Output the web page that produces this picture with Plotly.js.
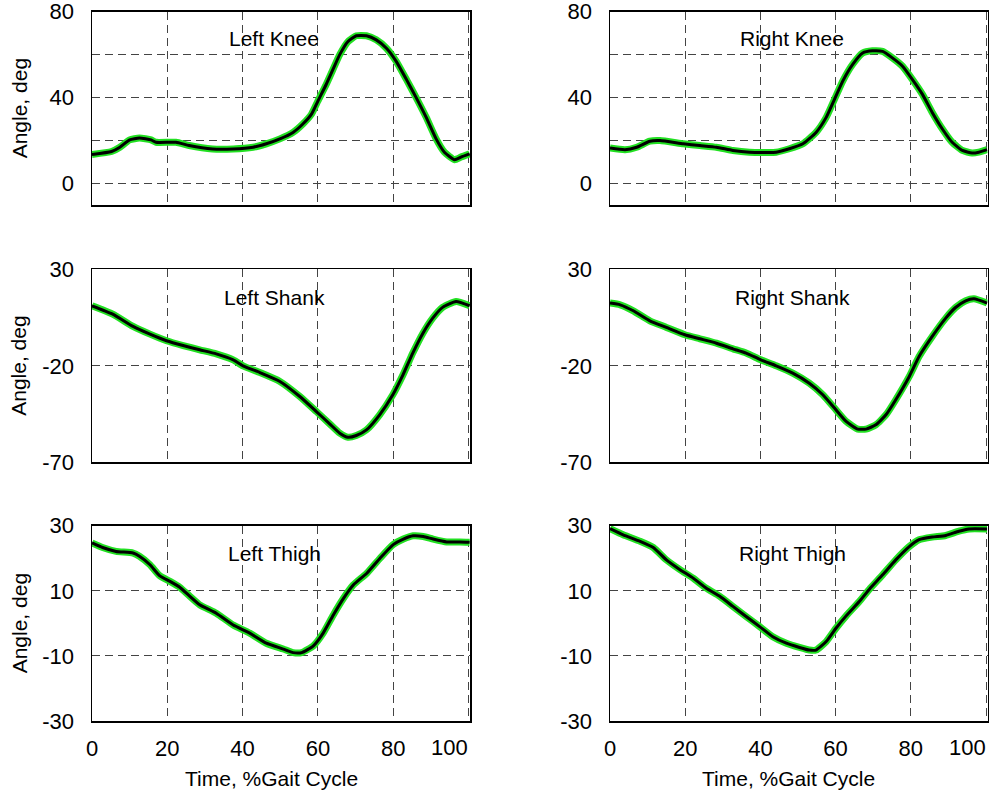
<!DOCTYPE html>
<html>
<head>
<meta charset="utf-8">
<script src="https://cdn.plot.ly/plotly-3.0.1.min.js"></script>
<style>html,body{margin:0;padding:0;background:#fff;}#chart{width:995px;height:796px;}</style>
</head>
<body>
<div id="chart"></div>
<script>
// ---- data ----
const leftKneeX = [0, 5.2, 7.4, 10, 12.6, 15.7, 17, 22.3, 25.8, 32, 37.5, 42.8, 46.3, 49.9, 53.4, 56, 58.3, 60, 62.2, 64, 65.8, 68, 70.2, 72.9, 75.5, 78.2, 80.8, 83.5, 86.1, 88.8, 91.4, 93.6, 96.3, 98, 100.3];
const leftKneeY = [13.5, 14.9, 16.9, 20.3, 21.2, 20.3, 19.2, 19.2, 17.7, 16.1, 16.1, 16.9, 18.5, 20.8, 23.8, 27.7, 32.3, 38.4, 46.1, 53.1, 60, 66.1, 68.8, 68.8, 66.9, 63, 56.9, 48.5, 40, 30.7, 20.8, 14.6, 11.1, 12.3, 13.8];

const rightKneeX = [0, 4, 7.1, 10.6, 13.3, 19.5, 23.9, 28.3, 32.7, 37.1, 41.6, 44.2, 47.7, 51.3, 54.8, 57.5, 59.7, 61.9, 64.5, 67.2, 69.8, 72.5, 75.1, 77.8, 80.4, 83.1, 85.7, 88.4, 91, 93.7, 96.3, 98.1, 100.3];
const rightKneeY = [16.5, 15.7, 16.9, 19.7, 20, 18.5, 17.7, 16.9, 15.4, 14.6, 14.5, 14.6, 16.2, 18.5, 23.8, 30.8, 39.2, 47.7, 55.4, 60.8, 61.8, 61.5, 58.5, 54.6, 48.5, 41.5, 33.1, 25.4, 19.2, 15.4, 14.2, 14.6, 15.8];

const leftShankX = [0, 5.5, 10.9, 15.4, 19.8, 24.2, 28.6, 33, 37.5, 40.1, 44.6, 49.9, 55.2, 59.6, 63.2, 65.8, 68, 70.2, 72.9, 76.4, 79.9, 82.6, 85.2, 87.9, 90.5, 93.2, 96.7, 100.3];
const leftShankY = [11.1, 6.8, 0.4, -3.6, -7, -9.5, -11.7, -13.8, -16.9, -20, -23.5, -28.1, -35.9, -43.7, -50.2, -54.9, -57, -56.1, -53.2, -45.4, -35, -24.7, -13.4, -3.1, 4.7, 10.4, 13.3, 11.1];

const rightShankX = [0, 2.7, 6.2, 10.6, 15, 19.9, 23.9, 28.3, 32.7, 36.2, 40.1, 44.2, 48.6, 53, 56.6, 59.7, 62.8, 65.9, 68.1, 70.7, 73.4, 76, 79.6, 82.2, 85.7, 89.3, 91.9, 94.6, 96.8, 100.3];
const rightShankY = [12.5, 11.6, 8.5, 3.3, -0.1, -3.9, -6, -8.3, -11.2, -13.4, -16.9, -20, -23.8, -29, -35, -41.9, -48.8, -52.8, -52.8, -50.6, -45.4, -37.6, -25.5, -15.2, -4.8, 4.7, 10.2, 13.7, 14.7, 12.5];

const leftThighX = [0, 2.8, 6.4, 10.9, 12.6, 15.4, 18, 20.7, 23.3, 26, 28.6, 33, 37.5, 41.9, 46.3, 50.8, 53.4, 55.7, 58.8, 61.4, 64.1, 66.8, 69.4, 73, 76.5, 80, 82.7, 85.3, 88, 90.6, 94.2, 97.7, 100.3];
const leftThighY = [24.7, 23.3, 22.1, 21.6, 20.6, 18, 14.6, 12.9, 11.1, 8.3, 5.7, 3.1, -0.5, -3, -6.1, -7.9, -9, -9, -6.9, -3, 2.6, 7.7, 11.8, 15.4, 20, 24.2, 25.9, 26.9, 26.7, 25.9, 25, 25, 24.9];

const rightThighX = [0, 3.5, 8, 11.5, 15, 18.6, 22.1, 25.6, 29.2, 32.7, 36.2, 39.8, 43.3, 46.9, 50.4, 53, 54.8, 57.5, 60.1, 62.8, 66.3, 69, 72.5, 76, 79.6, 82.2, 85.7, 89.3, 92.8, 95.5, 100.3];
const rightThighY = [29.1, 27.2, 25.2, 23.3, 19.5, 16.5, 13.9, 10.8, 8.3, 5.2, 2.1, -1, -4.1, -6.1, -7.4, -8.2, -8.2, -5.6, -1.5, 2.3, 6.7, 10.5, 14.9, 19.5, 23.6, 25.7, 26.5, 27, 28.3, 29, 29];

const panelTitles = ["Left Knee", "Right Knee", "Left Shank", "Right Shank", "Left Thigh", "Right Thigh"];
const xTickVals = [0, 20, 40, 60, 80, 100];
const xTickText = ["0", "20", "40", "60", "80", ""];
const xLastTickText = "100";
const kneeTickVals = [0, 20, 40, 60, 80];
const kneeTickText = ["0", "", "40", "", "80"];
const shankTickVals = [-70, -20, 30];
const shankTickText = ["-70", "-20", "30"];
const thighTickVals = [-30, -10, 10, 30];
const thighTickText = ["-30", "-10", "10", "30"];
const yTitle = "Angle, deg";
const xTitle = "Time, %Gait Cycle";

// ---- build ----
const series = [
  [leftKneeX, leftKneeY], [rightKneeX, rightKneeY],
  [leftShankX, leftShankY], [rightShankX, rightShankY],
  [leftThighX, leftThighY], [rightThighX, rightThighY]
];
const FONT = "Liberation Sans, Arial, sans-serif";
const W = 995, H = 796;
const colDom = [[92 / W, 470 / W], [610 / W, 987.5 / W]];
const rowPx = [[11.7, 205], [269.3, 462.3], [525.7, 721]];
const rowDom = rowPx.map(r => [1 - r[1] / H, 1 - r[0] / H]);
const yRanges = [[-10, 80], [-70, 30], [-30, 30]];
const xRange = [0, 100.4];
const yTicks = [[kneeTickVals, kneeTickText], [shankTickVals, shankTickText], [thighTickVals, thighTickText]];

const traces = [];
const layout = {
  width: W, height: H,
  margin: {l: 0, r: 0, t: 0, b: 0},
  paper_bgcolor: "#fff", plot_bgcolor: "#fff",
  showlegend: false,
  font: {family: FONT, color: "#000", size: 21},
  annotations: []
};

series.forEach((s, i) => {
  const n = i + 1;
  const row = Math.floor(i / 2), col = i % 2;
  const xa = n === 1 ? "x" : "x" + n, ya = n === 1 ? "y" : "y" + n;
  traces.push({x: s[0], y: s[1], xaxis: xa, yaxis: ya, mode: "lines",
    line: {color: "#22e022", width: 7, shape: "spline", smoothing: 0.5}, hoverinfo: "skip"});
  traces.push({x: s[0], y: s[1], xaxis: xa, yaxis: ya, mode: "lines",
    line: {color: "#000", width: 3, shape: "spline", smoothing: 0.5}, hoverinfo: "skip"});
  const xKey = n === 1 ? "xaxis" : "xaxis" + n, yKey = n === 1 ? "yaxis" : "yaxis" + n;
  layout[xKey] = {
    domain: colDom[col], anchor: ya, range: xRange,
    tickvals: xTickVals, ticktext: xTickText, showticklabels: row === 2,
    showgrid: true, gridcolor: "#444", griddash: "8px,5px", gridwidth: 1,
    zeroline: false, showline: true, mirror: true, linecolor: "#000", linewidth: 1.5,
    ticks: "", ticklabelstandoff: 7, ticklabeloverflow: "allow",
    tickfont: {size: 22, family: FONT, color: "#000"},
    automargin: false
  };
  layout[yKey] = {
    domain: rowDom[row], anchor: xa, range: yRanges[row],
    tickvals: yTicks[row][0], ticktext: yTicks[row][1],
    showgrid: true, gridcolor: "#444", griddash: "8px,5px", gridwidth: 1,
    zeroline: false, showline: true, mirror: true, linecolor: "#000", linewidth: 1.5,
    ticks: "", ticklabelstandoff: 12, ticklabeloverflow: "allow",
    tickfont: {size: 22, family: FONT, color: "#000"},
    automargin: false
  };
  // panel title
  const cx = col === 0 ? 274 : 792;
  const cy = [38, 297, 553][row];
  layout.annotations.push({text: panelTitles[i], xref: "paper", yref: "paper",
    x: cx / W, y: 1 - cy / H, xanchor: "center", yanchor: "middle", showarrow: false,
    font: {size: 21, family: FONT, color: "#000"}});
  if (col === 0) {
    const rc = (rowPx[row][0] + rowPx[row][1]) / 2;
    layout.annotations.push({text: yTitle, xref: "paper", yref: "paper",
      x: 19 / W, y: 1 - rc / H, xanchor: "center", yanchor: "middle", textangle: -90, showarrow: false,
      font: {size: 21, family: FONT, color: "#000"}});
  }
  if (row === 2) {
    // last x tick label, right-aligned to the frame as in the reference
    layout.annotations.push({text: xLastTickText, xref: xa, yref: "paper",
      x: xRange[1], y: 1 - 747 / H, xanchor: "right", yanchor: "middle", showarrow: false,
      font: {size: 22, family: FONT, color: "#000"}});
    const tx = col === 0 ? 271 : 788;
    layout.annotations.push({text: xTitle, xref: "paper", yref: "paper",
      x: tx / W, y: 1 - 778 / H, xanchor: "center", yanchor: "middle", showarrow: false,
      font: {size: 21, family: FONT, color: "#000"}});
  }
});

Plotly.newPlot("chart", traces, layout, {displayModeBar: false, staticPlot: true});
</script>
</body>
</html>
